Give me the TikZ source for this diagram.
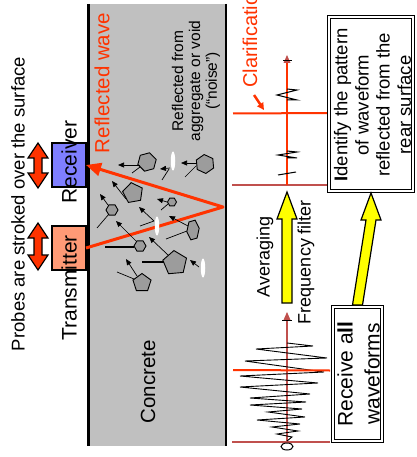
\documentclass[tikz,border=0pt]{standalone}
\usepackage{fontspec}
\setmainfont{Liberation Sans}
\usetikzlibrary{shapes.geometric,arrows.meta,calc}

\definecolor{wavered}{HTML}{FF3300}
\definecolor{axisred}{HTML}{C0504D}
\definecolor{rxblue}{HTML}{7F7FFF}
\definecolor{txsalmon}{HTML}{FF9A76}
\definecolor{concretegray}{HTML}{C0C0C0}
\definecolor{pulseyellow}{HTML}{FFFF00}
\definecolor{stonegray}{HTML}{9C9C9C}

\tikzset{
  vtext/.style={rotate=90, inner sep=0pt, align=center},
  probe/.style={draw, line width=1.8pt, minimum width=34pt, minimum height=44pt, inner sep=0pt, outer sep=0pt},
  agg/.style={regular polygon, regular polygon sides=#1, draw=black, line width=0.9pt,
    fill=stonegray, inner sep=0pt},
  void/.style={ellipse, fill=white, minimum width=4.5pt, minimum height=19pt, inner sep=0pt},
  ray/.style={-{Triangle[length=6pt,width=5pt]}, line width=0.7pt},
  inray/.style={line width=0.7pt},
  hitline/.style={line width=1.6pt},
  stepbox/.style={draw, double, double distance=2pt, line width=1.2pt, inner sep=0pt, outer sep=0pt},
  yarrow/.style={draw, line width=1.2pt, fill=pulseyellow, line join=miter},
  dblarrow/.pic={
    \draw[fill=wavered, line width=1.2pt, line join=miter]
      (0,-#1) -- (10,-#1+15) -- (4,-#1+15) -- (4,#1-15) -- (10,#1-15) -- (0,#1)
      -- (-10,#1-15) -- (-4,#1-15) -- (-4,-#1+15) -- (-10,-#1+15) -- cycle;
  },
}

\begin{document}
\begin{tikzpicture}[x=1pt,y=-1pt]
\useasboundingbox (0,0) rectangle (416,457);
\clip (0,0) rectangle (416,457);
\fill[white] (0,0) rectangle (416,457);

% ---------------- concrete slab ----------------
\fill[concretegray] (88,4) rectangle (226,446);
\draw[line width=3pt] (88,4) -- (88,446);
\draw[line width=2.5pt] (226,4) -- (226,446);
\node[vtext, font=\fontsize{20.5}{20.5}\selectfont] (concrete) at (148,382) {Concrete};

% ---------------- probes ----------------
\node[vtext, font=\fontsize{18.5}{18.5}\selectfont] (probes) at (18,204) {Probes are stroked over the surface};
\node[probe, fill=rxblue] (rx) at (69,165) {};
\node[probe, fill=txsalmon] (tx) at (69,248) {};
\node[vtext, font=\fontsize{21}{21}\selectfont] (rxlabel) at (69,162) {Receiver};
\node[vtext, font=\fontsize{21}{21}\selectfont] (txlabel) at (69,288) {Transmitter};
\pic at (38,165.5) {dblarrow=22.5};
\pic at (38,246.5) {dblarrow=23.5};

% ---------------- main reflected wave ----------------
\coordinate (bounce) at (223,207);
\draw[wavered, line width=3pt, line join=round, -{Triangle[length=15pt,width=13pt]}]
  (tx.east) -- (bounce) -- (rx.east);
\node[vtext, text=wavered, font=\fontsize{20.5}{20.5}\selectfont] (rwlabel) at (102,83) {Reflected wave};
\node[vtext, font=\fontsize{15.5}{16.8}\selectfont] (noiselabel) at (196,81)
  {Reflected from\\aggregate or void\\(“noise”)};

% ---------------- aggregates and voids ----------------
\node[agg=6, minimum size=19pt, rotate=15] (g1) at (147,162) {};
\draw[ray] (140,165) -- (118,165);
\draw[inray] (132,173) -- (140,167);

\node[void] (v1) at (173,161) {};
\draw[ray] (170,168) -- (160,169);
\draw[inray] (162,180) -- (169,169);

\node[agg=6, minimum size=19pt, rotate=35] (g2) at (205,164) {};
\draw[ray] (197,163) -- (181,163);
\draw[inray] (185,177) -- (196,166);

\node[agg=5, minimum size=21pt, rotate=10] (g3) at (133,193) {};
\draw[ray] (126,199) -- (112,181);

\node[agg=6, minimum size=12pt] (g4) at (112,210) {};
\draw[ray] (108,205) -- (100,194);
\draw[inray] (97,228) -- (109,214);

\node[agg=6, minimum size=9pt] (g5) at (172,202) {};
\draw[ray] (167,202) -- (157,199);
\draw[inray] (161,210) -- (168,204);

\node[void] (v2) at (157,226) {};
\draw[ray] (154,221) -- (139,207);
\draw[inray] (140,226) -- (154,221);

\node[agg=6, minimum size=21pt, xscale=0.6, rotate=10] (g6) at (193,230) {};
\draw[ray] (188,226) -- (169,216);
\draw[inray] (166,239) -- (187,231);

\node[agg=6, minimum size=12pt] (g7) at (140,246) {};
\draw[ray] (136,241) -- (116,221);
\draw[hitline] (105,247) -- (134,247);

\node[agg=5, minimum size=25pt, rotate=5] (g8) at (175,263) {};
\draw[ray] (168,255) -- (149,237);
\draw[hitline] (142,262) -- (164,262);

\node[void] (v3) at (203,268) {};
\draw[ray] (199,267) -- (190,260);

\node[agg=5, minimum size=19pt] (g9) at (142,283) {};
\draw[ray] (137,276) -- (126,259);
\draw[inray] (117,272) -- (134,279);

% ---------------- processed waveform (top) ----------------
\draw[axisred, line width=1.5pt] (232,185) -- (330,185);
\draw[wavered, line width=1.5pt] (287,185) -- (287,62);
\fill[axisred] (287,55) -- (290.5,63) -- (283.5,63) -- cycle;
\draw[line width=1pt] (283,61) -- (292,61);
\draw[line width=1pt, line join=miter] (287,89) -- (297,90) -- (277,95) -- (297,100) -- (287,100);
\draw[line width=1pt, line join=miter] (287,151) -- (297,152) -- (278,155) -- (297,158) -- (287,158);
\draw[line width=1pt] (278,175) -- (296,172);
\draw[wavered, line width=2pt] (233,113.5) -- (330,113);
\node[vtext, text=wavered, font=\fontsize{20}{20}\selectfont, anchor=west] (clarif) at (250,88) {Clarification};
\draw[wavered, line width=2.5pt, -{Triangle[length=7pt,width=7pt]}] (254,95) -- (264,110);

% ---------------- raw waveform (bottom) ----------------
\draw[axisred, line width=1.5pt] (232,442) -- (330,442);
\draw[axisred, line width=1.5pt] (287,442) -- (287,319);
\fill[axisred] (287,312) -- (290.5,320) -- (283.5,320) -- cycle;
\draw[line width=1pt] (282,320) -- (292,320);
\draw[line width=0.9pt, line join=miter]
  (287,343) -- (313,346) -- (256,349) -- (327,358) -- (245,361) -- (324,372)
  -- (240,376) -- (318,383) -- (240,387) -- (310,394) -- (250,398) -- (306,402)
  -- (250,405) -- (302,409) -- (268,412) -- (305,417) -- (257,420) -- (300,424)
  -- (272,427) -- (298,431) -- (277,434) -- (292,437) -- (287,441);
\draw[wavered, line width=2pt] (233,370) -- (330,370.5);
\node[ellipse, draw, fill=white, line width=1pt, minimum width=12pt, minimum height=7pt, inner sep=0pt] (origin) at (287,446.5) {};

% ---------------- processing steps ----------------
\node[stepbox, minimum width=83.6pt, minimum height=173.6pt] (identify) at (371,104) {};
\node[vtext, font=\fontsize{18.5}{21.2}\selectfont] (identifytext) at (372.5,105)
  {\textbf{I}dentify the pattern\\of waveform\\reflected from the\\rear surface};
\node[stepbox, minimum width=48.6pt, minimum height=133.6pt] (receiveall) at (357.5,374) {};
\node[vtext, font=\fontsize{21}{27}\selectfont] (receivetext) at (358.5,374)
  {Receive a\textbf{ll}\\waveforms};

% averaging / frequency filter arrow
\coordinate (avgtail) at (287,303);
\coordinate (avgtip) at (287,192);
\draw[yarrow] ($(avgtail)+(-5,0)$) -- ($(avgtip)+(-5,27)$) -- ($(avgtip)+(-10,27)$) -- (avgtip)
  -- ($(avgtip)+(10,27)$) -- ($(avgtip)+(5,27)$) -- ($(avgtail)+(5,0)$) -- cycle;
\node[vtext, font=\fontsize{18}{18}\selectfont] (avglabel) at (265,257) {Averaging};
\node[vtext, font=\fontsize{18}{18}\selectfont] (filterlabel) at (306,262) {Frequency filter};

% step arrow between the two boxes
\coordinate (steptail) at ($(receiveall.north)+(0,-2.2)$);
\coordinate (steptip) at ($(identify.south)+(0,2.2)$);
\draw[yarrow] ($(steptail)+(-5,0)$) -- ($(steptip)+(-5,27)$) -- ($(steptip)+(-10,27)$) -- (steptip)
  -- ($(steptip)+(10,27)$) -- ($(steptip)+(5,27)$) -- ($(steptail)+(5,0)$) -- cycle;
\end{tikzpicture}
\end{document}
